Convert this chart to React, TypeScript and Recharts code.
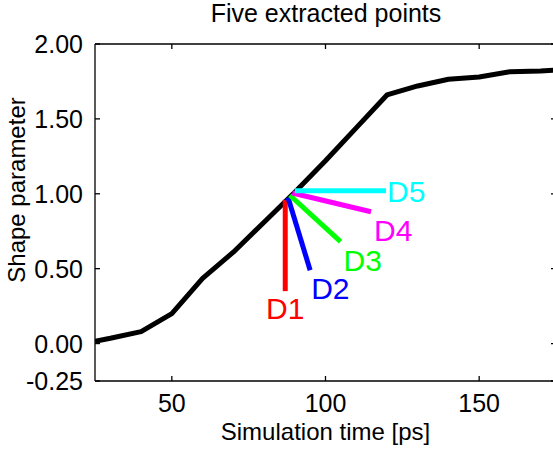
import React from "react";
import { LineChart, Line, XAxis, YAxis, LabelList, ReferenceLine } from "recharts";

// main curve
const curveTime = [25, 30, 40, 50, 60, 70, 80, 90, 100, 110, 120, 130, 140, 150, 160, 170, 175];
const curveShape = [0.015, 0.035, 0.08, 0.2, 0.435, 0.61, 0.81, 1.01, 1.22, 1.44, 1.66, 1.72, 1.765, 1.78, 1.815, 1.82, 1.825];

// the five extracted directions
const pointNames = ["D1", "D2", "D3", "D4", "D5"];
const pointColors = ["#ff0000", "#0000ff", "#00ff00", "#ff00ff", "#00ffff"];
const startTime = [86.9, 87.8, 88.4, 89.2, 90.0];
const startShape = [0.96, 0.975, 0.99, 1.005, 1.02];
const endTime = [86.9, 95.0, 104.9, 114.8, 119.7];
const endShape = [0.35, 0.49, 0.68, 0.88, 1.02];

const xTicks = [50, 100, 150];
const yTicks = [-0.25, 0, 0.5, 1, 1.5, 2];
const xDomain = [25, 175];
const yDomain = [-0.25, 2];

const FONT = "'Liberation Sans', Arial, sans-serif";
const AXIS = "#000";
const frame = { stroke: AXIS, strokeWidth: 1.3 };

const curve = curveTime.map((t, i) => ({ t, v: curveShape[i] }));
const segments = pointNames.map((name, i) => [
  { t: startTime[i], v: startShape[i], name: "" },
  { t: endTime[i], v: endShape[i], name },
]);

// label placement relative to the segment end (px)
const labelPos = [
  { dx: 0, dy: 28, anchor: "middle" },
  { dx: 1, dy: 29, anchor: "start" },
  { dx: 3, dy: 29, anchor: "start" },
  { dx: 3, dy: 29, anchor: "start" },
  { dx: 1, dy: 11, anchor: "start" },
];

const LeftTick = (p: any) => (
  <g>
    <line x1={p.x} y1={p.y} x2={p.x + 5} y2={p.y} {...frame} />
    <text x={p.x - 12} y={p.y + 9} textAnchor="end" fontSize={25} fontFamily={FONT} fill="#000">
      {Number(p.payload.value).toFixed(2)}
    </text>
  </g>
);
const BottomTick = (p: any) => (
  <g>
    <line x1={p.x} y1={p.y} x2={p.x} y2={p.y - 5} {...frame} />
    <text x={p.x} y={p.y + 31} textAnchor="middle" fontSize={25} fontFamily={FONT} fill="#000">
      {p.payload.value}
    </text>
  </g>
);

// short inward tick at the top end of a vertical reference line
const TopTickShape = (p: any) => {
  const top = Math.min(p.y1, p.y2);
  return <line x1={p.x1} y1={top} x2={p.x1} y2={top + 5} {...frame} />;
};
// short inward tick at the right end of a horizontal reference line
const RightTickShape = (p: any) => {
  const right = Math.max(p.x1, p.x2);
  return <line x1={right} y1={p.y1} x2={right - 5} y2={p.y1} {...frame} />;
};

export default function App() {
  return (
    <div style={{ width: 553, height: 453, overflow: "hidden", background: "#fff" }}>
      <style>{"html,body{margin:0;padding:0;overflow:hidden}"}</style>
      <LineChart width={556} height={453} margin={{ top: 44, right: 0, bottom: 0, left: 0 }}>
        <XAxis
          xAxisId="b"
          dataKey="t"
          type="number"
          domain={xDomain}
          allowDataOverflow
          ticks={xTicks}
          interval={0}
          height={72}
          tickSize={0}
          tickMargin={0}
          tickLine={false}
          stroke={AXIS}
          axisLine={frame}
          tick={BottomTick}
          label={() => (
            <text x={325.5} y={440} textAnchor="middle" fontSize={24} fontFamily={FONT} fill="#000">
              Simulation time [ps]
            </text>
          )}
        />
        <YAxis
          yAxisId="l"
          type="number"
          domain={yDomain}
          allowDataOverflow
          ticks={yTicks}
          interval={0}
          width={95}
          tickSize={0}
          tickMargin={0}
          tickLine={false}
          stroke={AXIS}
          axisLine={frame}
          tick={LeftTick}
          label={() => (
            <g>
              <text x={326} y={22} textAnchor="middle" fontSize={25} fontFamily={FONT} fill="#000">
                Five extracted points
              </text>
              <text
                x={25}
                y={190}
                transform="rotate(-90, 25, 190)"
                textAnchor="middle"
                fontSize={24}
                fontFamily={FONT}
                fill="#000"
              >
                Shape parameter
              </text>
            </g>
          )}
        />
        {/* box frame: top edge and inward ticks on top / right */}
        <ReferenceLine xAxisId="b" yAxisId="l" y={yDomain[1]} ifOverflow="visible" {...frame} />
        {xTicks.map((t) => (
          <ReferenceLine
            key={"xt" + t}
            xAxisId="b"
            yAxisId="l"
            x={t}
            ifOverflow="visible"
            shape={TopTickShape}
          />
        ))}
        {yTicks.map((v) => (
          <ReferenceLine
            key={"yr" + v}
            xAxisId="b"
            yAxisId="l"
            y={v}
            ifOverflow="visible"
            shape={RightTickShape}
          />
        ))}
        <Line
          xAxisId="b"
          yAxisId="l"
          data={curve}
          dataKey="v"
          type="linear"
          stroke="#000"
          strokeWidth={5}
          strokeLinejoin="round"
          dot={false}
          activeDot={false}
          isAnimationActive={false}
        />
        {segments.map((seg, i) => (
          <Line
            key={pointNames[i]}
            xAxisId="b"
            yAxisId="l"
            data={seg}
            dataKey="v"
            type="linear"
            stroke={pointColors[i]}
            strokeWidth={5}
            dot={false}
            activeDot={false}
            isAnimationActive={false}
          >
            <LabelList
              dataKey="name"
              content={(p: any) =>
                p.value ? (
                  <text
                    x={p.x + labelPos[i].dx}
                    y={p.y + labelPos[i].dy}
                    textAnchor={labelPos[i].anchor}
                    fontSize={30}
                    fontFamily={FONT}
                    fill={pointColors[i]}
                  >
                    {p.value}
                  </text>
                ) : null
              }
            />
          </Line>
        ))}
      </LineChart>
    </div>
  );
}
